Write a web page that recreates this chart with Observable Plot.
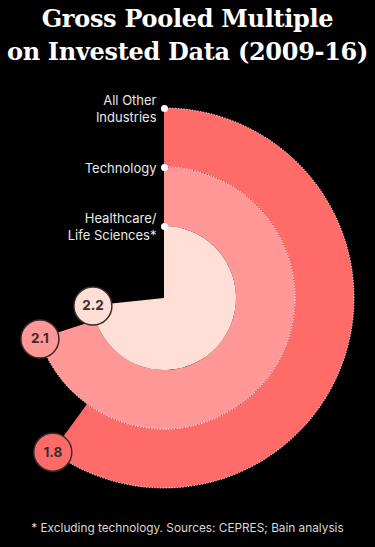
<!DOCTYPE html>
<html><head><meta charset="utf-8">
<script src="https://cdn.jsdelivr.net/npm/d3@7"></script>
<script src="https://cdn.jsdelivr.net/npm/@observablehq/plot@0.6"></script>
<style>
html,body{margin:0;padding:0;background:#000;width:375px;height:547px;overflow:hidden;}
#title{position:absolute;left:0;top:2px;width:375px;text-align:center;color:#fff;font-family:"DejaVu Serif",serif;font-weight:bold;font-size:24px;line-height:33px;letter-spacing:-0.3px;}
#chart{position:absolute;left:0;top:80px;}
#note{position:absolute;left:0;top:521px;width:375px;text-align:center;color:#d9d9d9;font-family:Inter,sans-serif;font-size:11.8px;line-height:14px;}
</style></head><body>
<div id="title">Gross Pooled Multiple<br>on Invested Data (2009-16)</div>
<div id="chart"></div>
<div id="note">* Excluding technology. Sources: CEPRES; Bain analysis</div>
<script>
// ---- data ----
const categories = ["All Other Industries", "Technology", "Healthcare/ Life Sciences*"];
const labelLines = ["All Other\nIndustries", "Technology", "Healthcare/\nLife Sciences*"];
const values = [1.8, 2.1, 2.2];
const valueLabels = ["1.8", "2.1", "2.2"];
const fullCircle = 3; // value that would fill 360°
const colors = ["#ff6b69", "#ff9797", "#ffdfd5"];

// ---- layout (style) ----
const W = 375, H = 420, cx = 164, cy = 218, R = 190;
const outerR = [1, 131 / 190, 72 / 190];
const innerR = [131 / 190, 72 / 190, 0];

const angle = d3.scaleLinear([0, fullCircle], [0, 2 * Math.PI]);
const rows = categories.map((c, i) => {
  const a = angle(values[i]);
  return {
    category: c, label: labelLines[i], value: values[i], text: valueLabels[i], color: colors[i],
    r0: innerR[i], r1: outerR[i], a,
    bx: outerR[i] * Math.sin(a), by: outerR[i] * Math.cos(a)
  };
});

function arcs(index, scales) {
  const ox = scales.x(0), oy = scales.y(0);
  const px = (r) => scales.x(r) - ox;
  const g = d3.create("svg:g");
  const arc = d3.arc();
  for (const d of rows) {
    g.append("path")
      .attr("transform", `translate(${ox},${oy})`)
      .attr("fill", d.color)
      .attr("d", arc({innerRadius: px(d.r0), outerRadius: px(d.r1), startAngle: 0, endAngle: d.a}));
  }
  for (const d of rows.slice(0, 2)) {
    const p = d3.path();
    p.arc(ox, oy, px(d.r1), -Math.PI / 2, -Math.PI / 2 + d.a);
    g.append("path").attr("d", p.toString()).attr("fill", "none")
      .attr("stroke", "#fff").attr("stroke-width", 1).attr("stroke-dasharray", "1.2 1.6");
  }
  return g.node();
}

const chart = Plot.plot({
  width: W, height: H,
  margin: 0,
  style: {background: "#000", overflow: "visible"},
  x: {domain: [-cx / R, (W - cx) / R], range: [0, W], axis: null},
  y: {domain: [-(H - cy) / R, cy / R], range: [H, 0], axis: null},
  marks: [
    arcs,
    Plot.dot(rows, {x: 0, y: "r1", r: 3.5, fill: "#fff"}),
    Plot.text(rows, {x: 0, y: "r1", text: "label", textAnchor: "end", dx: -8, lineAnchor: "middle",
      lineHeight: 1.3, fill: "#e8e8e8", fontSize: 13, fontFamily: "Inter, sans-serif"}),
    Plot.dot(rows, {x: "bx", y: "by", r: 19, fill: "color", stroke: "#3a2c2c", strokeWidth: 1.5}),
    Plot.text(rows, {x: "bx", y: "by", text: "text", fill: "#3a2c2c", fontSize: 13.5, fontWeight: "bold",
      fontFamily: "Inter, sans-serif"})
  ]
});
document.getElementById("chart").appendChild(chart);
</script>
</body></html>
